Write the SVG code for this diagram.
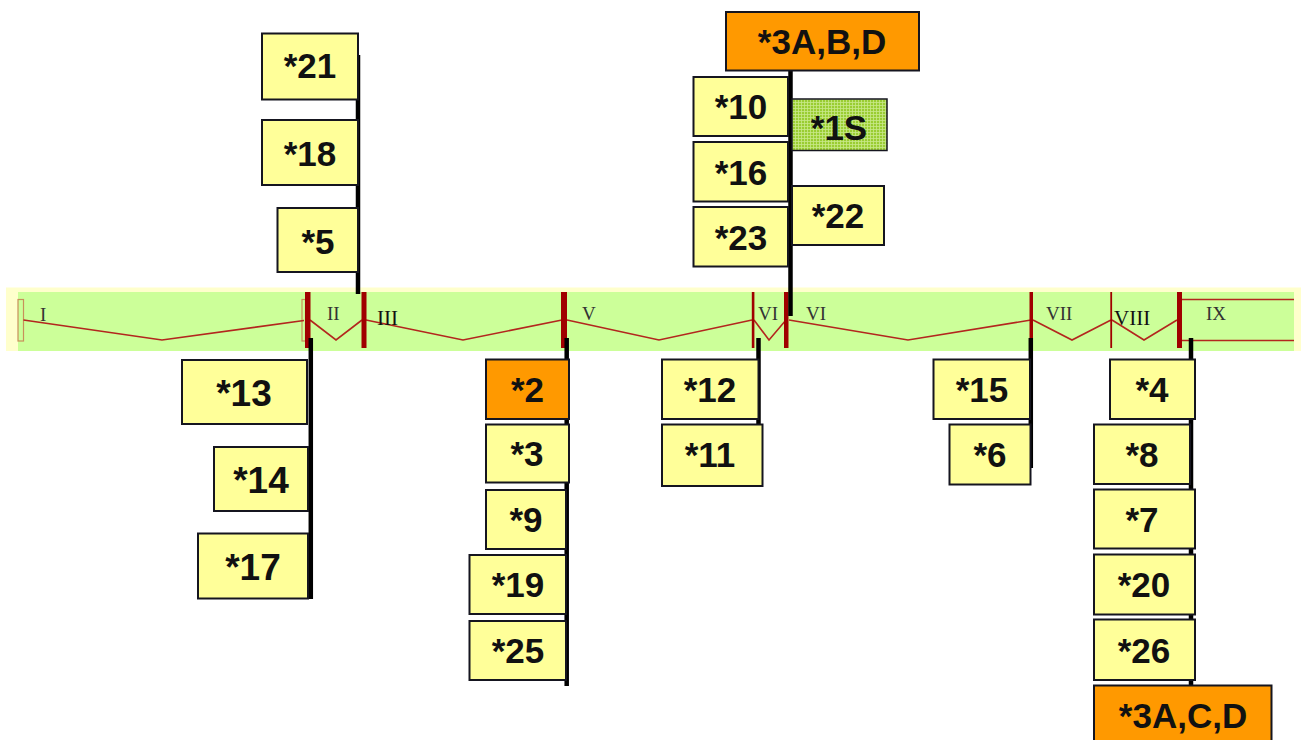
<svg xmlns="http://www.w3.org/2000/svg" width="1301" height="740" viewBox="0 0 1301 740">
<defs>
<style>
.box{fill:#FFFF99;stroke:#15151f;stroke-width:2}
.org{fill:#FF9900;stroke:#15151f;stroke-width:2}
.lbl{font-family:"Liberation Sans",Arial,sans-serif;font-weight:bold;font-size:35px;fill:#111;text-anchor:middle}
.ex{font-family:"Liberation Serif","Times New Roman",serif;font-size:19px;fill:#333}
.exb{font-family:"Liberation Serif","Times New Roman",serif;font-size:21px;fill:#111}
.intr{fill:none;stroke:#B3261E;stroke-width:1.6}
.bar{fill:#A00000}
.stem{stroke:#000;stroke-width:4.5;fill:none}
</style>
<pattern id="grid" width="3" height="3" patternUnits="userSpaceOnUse">
<rect width="3" height="3" fill="#9ACD32"/>
<path d="M0 0.5H3M0.5 0V3" stroke="#C9E98A" stroke-width="0.8"/>
</pattern>
</defs>
<rect width="1301" height="740" fill="#fff"/>
<g id="gene">
<rect x="6" y="287.5" width="1295" height="63.5" fill="#FFFFCC"/>
<rect x="18" y="292" width="1276" height="59" fill="#CCFF99"/>
<rect x="18" y="299.5" width="5.5" height="41.5" fill="none" stroke="#C8905A" stroke-width="1.2"/>
<rect x="302" y="299.5" width="3.5" height="41.5" fill="none" stroke="#C8905A" stroke-width="1.2"/>
<polyline class="intr" points="23.5,320 162,340 304,320.5"/>
<polyline class="intr" points="310,320 336,340 362,320"/>
<polyline class="intr" points="366,320 463,340 562,320"/>
<polyline class="intr" points="567,320 659,340 752,320"/>
<polyline class="intr" points="754,320 769,340 786,320"/>
<polyline class="intr" points="789,320 908,340 1031,320"/>
<polyline class="intr" points="1033,320 1072,340 1111,320"/>
<polyline class="intr" points="1112,320 1144,340 1177,320"/>
<path d="M1182 299.5H1294M1182 340.5H1294" stroke="#B3261E" stroke-width="1.6"/>
<rect class="bar" x="305" y="292" width="5.5" height="56"/>
<rect class="bar" x="361.5" y="292" width="5" height="56"/>
<rect class="bar" x="561" y="292" width="6" height="56"/>
<rect class="bar" x="751.8" y="292" width="2.6" height="56"/>
<rect class="bar" x="784" y="292" width="4.5" height="56"/>
<rect class="bar" x="1029.5" y="292" width="3.5" height="56"/>
<rect class="bar" x="1110.3" y="292" width="1.8" height="56"/>
<rect class="bar" x="1177" y="292" width="5" height="56"/>
<text class="ex" x="40" y="320.5">I</text>
<text class="ex" x="327" y="320">II</text>
<text class="exb" x="377" y="325">III</text>
<text class="ex" x="582" y="320">V</text>
<text class="ex" x="758" y="320">VI</text>
<text class="ex" x="806" y="320">VI</text>
<text class="ex" x="1046" y="320">VII</text>
<text class="exb" x="1114" y="325">VIII</text>
<text class="ex" x="1206" y="320">IX</text>
</g>
<g id="connectors">
<line class="stem" x1="358" y1="55" x2="358" y2="294"/>
<line class="stem" x1="790.5" y1="70" x2="790.5" y2="316"/>
<line class="stem" x1="310.8" y1="338" x2="310.8" y2="599"/>
<line class="stem" x1="566.7" y1="338" x2="566.7" y2="686"/>
<line class="stem" x1="758.5" y1="338" x2="758.5" y2="466"/>
<line class="stem" x1="1030.8" y1="338" x2="1030.8" y2="468"/>
<line class="stem" x1="1191" y1="338" x2="1191" y2="740"/>
</g>
<g id="n21"><rect class="box" x="262" y="33.5" width="96" height="66"/><text class="lbl" x="310" y="78">*21</text></g>
<g id="n18"><rect class="box" x="262" y="120" width="96" height="65"/><text class="lbl" x="310" y="166">*18</text></g>
<g id="n5"><rect class="box" x="277.5" y="208" width="80.5" height="64"/><text class="lbl" x="318" y="254">*5</text></g>
<g id="n13"><rect class="box" x="182" y="360" width="125" height="64"/><text class="lbl" x="244" y="406" style="font-size:37px">*13</text></g>
<g id="n14"><rect class="box" x="214" y="447" width="94" height="64"/><text class="lbl" x="261" y="493" style="font-size:37px">*14</text></g>
<g id="n17"><rect class="box" x="198" y="533.5" width="110" height="65"/><text class="lbl" x="253" y="580" style="font-size:37px">*17</text></g>
<g id="n2"><rect class="org" x="486" y="359.5" width="83" height="59.5"/><text class="lbl" x="527.5" y="402">*2</text></g>
<g id="n3"><rect class="box" x="486" y="424.5" width="83" height="58"/><text class="lbl" x="527" y="466">*3</text></g>
<g id="n9"><rect class="box" x="486" y="490" width="80" height="59"/><text class="lbl" x="526" y="532">*9</text></g>
<g id="n19"><rect class="box" x="469.5" y="555" width="96.5" height="59"/><text class="lbl" x="518" y="597">*19</text></g>
<g id="n25"><rect class="box" x="469.5" y="621" width="96.5" height="59"/><text class="lbl" x="518" y="663">*25</text></g>
<g id="n12"><rect class="box" x="662" y="359.5" width="96.5" height="59.5"/><text class="lbl" x="710" y="402">*12</text></g>
<g id="n11"><rect class="box" x="662" y="424.5" width="100.5" height="61.5"/><text class="lbl" x="710" y="467">*11</text></g>
<g id="n15"><rect class="box" x="933.5" y="359.5" width="96.5" height="59.5"/><text class="lbl" x="982" y="402">*15</text></g>
<g id="n6"><rect class="box" x="949.5" y="424.5" width="81" height="60"/><text class="lbl" x="990" y="467">*6</text></g>
<g id="n4"><rect class="box" x="1110" y="359.5" width="85" height="59.5"/><text class="lbl" x="1152" y="402">*4</text></g>
<g id="n8"><rect class="box" x="1094" y="424.5" width="96" height="59.5"/><text class="lbl" x="1142" y="467">*8</text></g>
<g id="n7"><rect class="box" x="1094" y="489.5" width="101" height="59"/><text class="lbl" x="1142" y="532">*7</text></g>
<g id="n20"><rect class="box" x="1094" y="554.5" width="101" height="60"/><text class="lbl" x="1144" y="597">*20</text></g>
<g id="n26"><rect class="box" x="1094" y="619.5" width="101" height="60.5"/><text class="lbl" x="1144" y="663">*26</text></g>
<g id="n3ACD"><rect class="org" x="1094" y="685.5" width="177.5" height="60"/><text class="lbl" x="1183" y="728">*3A,C,D</text></g>
<g id="n3ABD"><rect class="org" x="726" y="12" width="193" height="58.5"/><text class="lbl" x="822" y="54">*3A,B,D</text></g>
<g id="n10"><rect class="box" x="693.5" y="77" width="94.5" height="59"/><text class="lbl" x="741" y="119">*10</text></g>
<g id="n16"><rect class="box" x="693.5" y="142" width="94.5" height="59.5"/><text class="lbl" x="741" y="185">*16</text></g>
<g id="n23"><rect class="box" x="693.5" y="207" width="94.5" height="59.5"/><text class="lbl" x="741" y="250">*23</text></g>
<g id="n1S"><rect x="792" y="99" width="95" height="51.5" fill="url(#grid)" stroke="#15151f" stroke-width="1.5"/><text class="lbl" x="839" y="140">*1S</text></g>
<g id="n22"><rect class="box" x="792" y="186" width="92" height="59"/><text class="lbl" x="838" y="228">*22</text></g>
</svg>
